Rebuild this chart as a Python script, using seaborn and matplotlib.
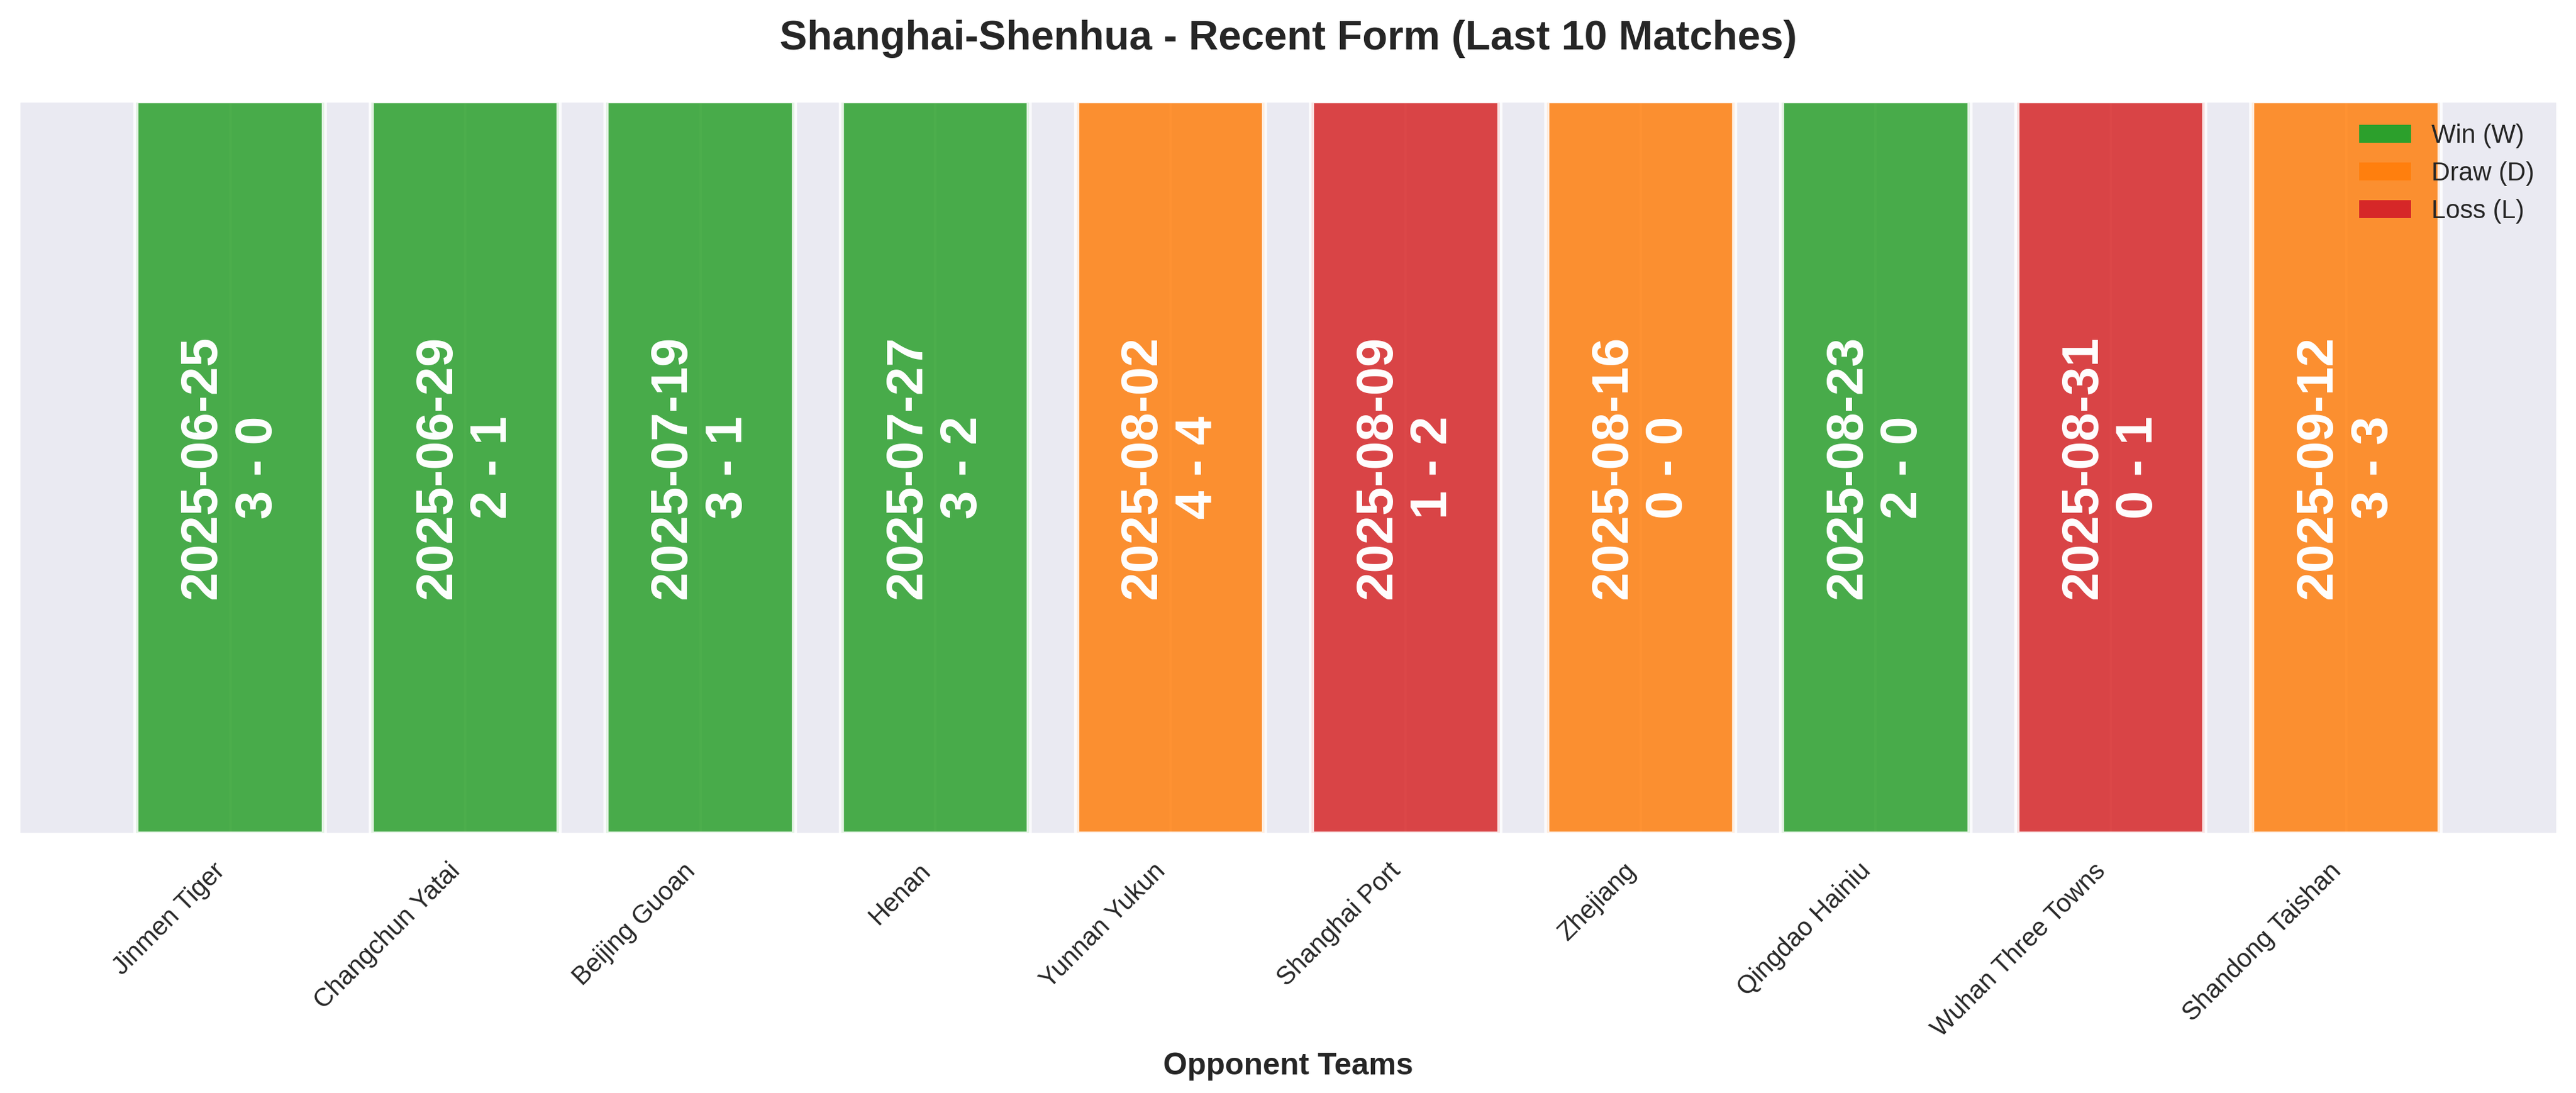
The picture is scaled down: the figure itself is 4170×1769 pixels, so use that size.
import matplotlib
matplotlib.use("Agg")
import matplotlib.pyplot as plt
from matplotlib.patches import Patch
import seaborn as sns
import pandas as pd

# ---- data ----
opponents = ["Jinmen Tiger", "Changchun Yatai", "Beijing Guoan", "Henan", "Yunnan Yukun",
             "Shanghai Port", "Zhejiang", "Qingdao Hainiu", "Wuhan Three Towns", "Shandong Taishan"]
dates = ["2025-06-25", "2025-06-29", "2025-07-19", "2025-07-27", "2025-08-02",
         "2025-08-09", "2025-08-16", "2025-08-23", "2025-08-31", "2025-09-12"]
scores = ["3 - 0", "2 - 1", "3 - 1", "3 - 2", "4 - 4", "1 - 2", "0 - 0", "2 - 0", "0 - 1", "3 - 3"]
results = ["W", "W", "W", "W", "D", "L", "D", "W", "L", "D"]
bar_height = [1, 1, 1, 1, 1, 1, 1, 1, 1, 1]
result_order = ["W", "D", "L"]
result_labels = ["Win (W)", "Draw (D)", "Loss (L)"]
result_colors = {"W": "#2ca02c", "D": "#ff7f0e", "L": "#d62728"}

df = pd.DataFrame({"opponent": opponents, "height": bar_height, "result": results,
                   "date": dates, "score": scores})

sns.set_theme(style="darkgrid")
plt.rcParams["font.family"] = ["Liberation Sans", "DejaVu Sans"]

fig = plt.figure(figsize=(4170 / 300, 1769 / 300), dpi=300)
ax = fig.add_axes([30 / 4170, 1 - 1350 / 1769, 4110 / 4170, 1187 / 1769])

sns.barplot(data=df, x="opponent", y="height", hue="result", order=opponents,
            hue_order=result_order, palette=result_colors, saturation=1, dodge=False,
            width=0.8, errorbar=None, alpha=0.85, edgecolor="white", linewidth=2,
            legend=False, ax=ax)

for i, (d, s) in enumerate(zip(df["date"], df["score"])):
    ax.text(i, 0.5, f"{d}\n{s}", rotation=90, ha="center", va="center",
            color="white", fontsize=20, fontweight="bold", multialignment="center")

ax.xaxis.grid(True)
ax.set_xlim(-0.9, 9.9)
ax.set_ylim(0, 1)
ax.set_yticks([])
ax.set_ylabel("")
ax.set_xticks(range(len(opponents)))
ax.set_xticklabels(opponents, rotation=45, ha="right", fontsize=10)
ax.set_xlabel("Opponent Teams", fontsize=12, fontweight="bold")
ax.set_title("Shanghai-Shenhua - Recent Form (Last 10 Matches)", fontsize=16,
             fontweight="bold", pad=20)

handles = [Patch(facecolor=result_colors[r], edgecolor="none", label=l)
           for r, l in zip(result_order, result_labels)]
ax.legend(handles=handles, loc="upper right", frameon=False, fontsize=10)

fig.savefig("out.png", dpi=300)
